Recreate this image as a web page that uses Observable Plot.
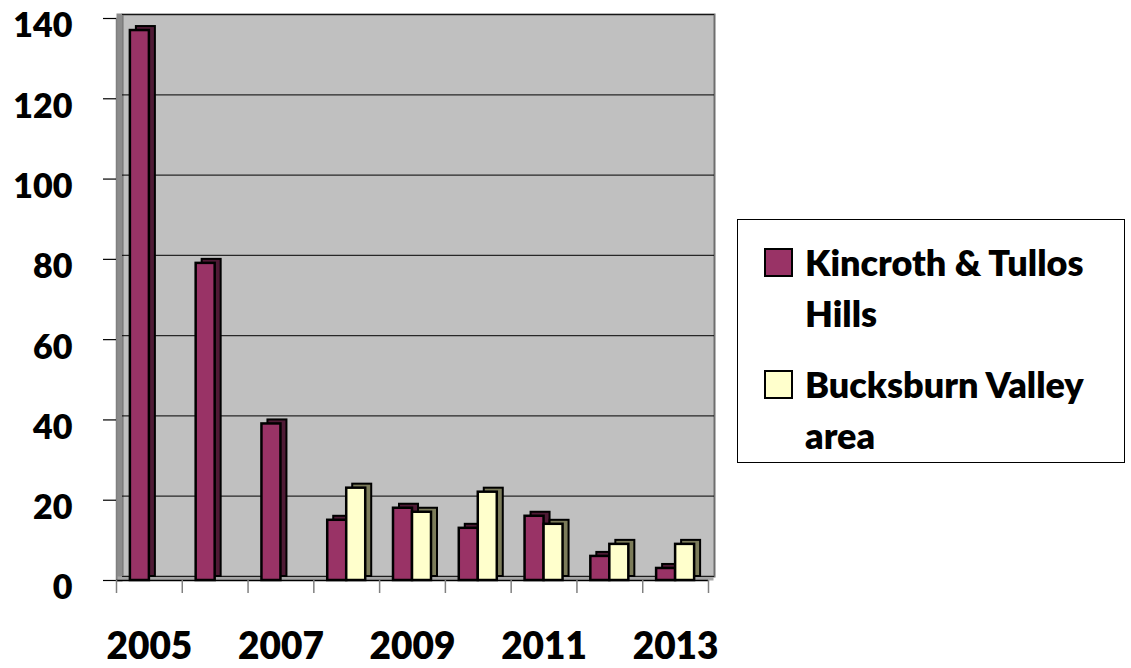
<!DOCTYPE html>
<html>
<head>
<meta charset="utf-8">
<script src="https://cdn.jsdelivr.net/npm/d3@7"></script>
<script src="https://cdn.jsdelivr.net/npm/@observablehq/plot@0.6"></script>
<style>
  html, body { margin: 0; padding: 0; background: #fff; }
  #wrap { position: relative; width: 1131px; height: 668px; }
  #chart { position: absolute; left: 0; top: 0; }
  #legend {
    position: absolute; left: 737px; top: 219px; width: 386px; height: 242px;
    border: 1px solid #000; background: #fff;
    font-family: Lato, "Open Sans", sans-serif; font-weight: 800; font-size: 36px; color: #000;
  }
  .item { position: absolute; left: 26px; display: flex; align-items: flex-start; }
  .sw { width: 25px; height: 25px; border: 2px solid #000; margin-right: 12px; flex: none; margin-top: 11px; }
  .lbl { line-height: 51px; white-space: nowrap; }
</style>
</head>
<body>
<div id="wrap">
  <div id="chart"></div>
  <div id="legend"></div>
</div>
<script>
const years = ["2005","2006","2007","2008","2009","2010","2011","2012","2013"];
const seriesNames = ["Kincroth & Tullos Hills", "Bucksburn Valley area"];
const kincroth = [137, 79, 39, 15, 18, 13, 16, 6, 3];
const bucksburn = [0, null, null, 23, 17, 22, 14, 9, 9];
const yTicks = [0, 20, 40, 60, 80, 100, 120, 140];
const xLabels = ["2005", "2007", "2009", "2011", "2013"];
const colors = ["#993366", "#ffffcc"];
const sideColors = ["#4f1a35", "#7c7c5a"];

const kData = years.map((y, i) => ({year: y, value: kincroth[i]}));
const bData = years.map((y, i) => ({year: y, value: bucksburn[i]})).filter(d => d.value != null);

const W = 730, H = 668, mL = 116, mR = 22, mT = 18, mB = 88;
const bw = (W - mL - mR) / years.length;
const barW = 19;
const inNear = bw / 2 - barW, inFar = bw / 2;
const depthX = 6, depthY = -4;
const axisFont = "Lato, 'Open Sans', sans-serif";

const plot = Plot.plot({
  width: W, height: H,
  marginLeft: mL, marginRight: mR, marginTop: mT, marginBottom: mB,
  style: {background: "transparent", fontFamily: axisFont, color: "#000"},
  x: {type: "band", domain: years, paddingInner: 0, paddingOuter: 0, round: false, axis: null, label: null},
  y: {domain: [0, 140], axis: null, label: null},
  marks: [
    // back wall
    Plot.frame({fill: "#c0c0c0", stroke: "#6e6e6e", strokeWidth: 2, dx: depthX, dy: depthY}),
    // left side wall
    Plot.frame({anchor: "left", stroke: "#8c8c8c", strokeWidth: depthX, dx: depthX / 2, dy: depthY / 2}),
    // floor
    Plot.frame({anchor: "bottom", stroke: "#a6a6a6", strokeWidth: 4, dx: depthX / 2, dy: depthY / 2}),
    // gridlines on back wall
    Plot.gridY(yTicks, {stroke: "#000", strokeOpacity: 0.8, strokeWidth: 1.2, dx: depthX, dy: depthY}),
    // 3D tops/sides
    Plot.barY(kData, {x: "year", y: "value", fill: sideColors[0], stroke: "#000", strokeWidth: 2,
      insetLeft: inNear, insetRight: inFar, dx: depthX, dy: depthY}),
    Plot.barY(bData, {x: "year", y: "value", fill: sideColors[1], stroke: "#000", strokeWidth: 2,
      insetLeft: inFar, insetRight: inNear, dx: depthX, dy: depthY}),
    // front faces
    Plot.barY(kData, {x: "year", y: "value", fill: colors[0], stroke: "#000", strokeWidth: 2.5,
      insetLeft: inNear, insetRight: inFar}),
    Plot.barY(bData, {x: "year", y: "value", fill: colors[1], stroke: "#000", strokeWidth: 2.5,
      insetLeft: inFar, insetRight: inNear}),
    // axis lines
    Plot.frame({anchor: "left", stroke: "#808080", strokeWidth: 1.5}),
    Plot.ruleY([0], {stroke: "#000", strokeWidth: 1.5}),
    // y ticks and labels
    Plot.axisY(yTicks, {tickSize: 13, tickFormat: () => "", stroke: "#000", strokeWidth: 1.2, label: null}),
    Plot.axisY(yTicks, {tickSize: 0, tickPadding: 44, dy: 8, fontSize: 34, fontWeight: 800, fontFamily: axisFont, label: null}),
    // x boundary ticks
    Plot.axisX(years, {tickSize: 13, tickFormat: () => "", dx: -bw / 2, stroke: "#808080", strokeWidth: 1.5, label: null}),
    Plot.axisX([years[years.length - 1]], {tickSize: 13, tickFormat: () => "", dx: bw / 2, stroke: "#808080", strokeWidth: 1.5, label: null}),
    // x labels
    Plot.axisX(xLabels, {tickSize: 0, tickPadding: 52, fontSize: 37, fontWeight: 800, fontFamily: axisFont, label: null})
  ]
});
document.getElementById("chart").appendChild(plot);

// legend
const legend = document.getElementById("legend");
const legendItems = [
  {name: seriesNames[0], lines: ["Kincroth & Tullos", "Hills"], color: colors[0], top: 17},
  {name: seriesNames[1], lines: ["Bucksburn Valley", "area"], color: colors[1], top: 139}
];
for (const it of legendItems) {
  const row = document.createElement("div");
  row.className = "item";
  row.style.top = it.top + "px";
  const sw = document.createElement("div");
  sw.className = "sw";
  sw.style.background = it.color;
  const lbl = document.createElement("div");
  lbl.className = "lbl";
  lbl.innerHTML = it.lines.join("<br>");
  row.appendChild(sw);
  row.appendChild(lbl);
  legend.appendChild(row);
}
</script>
</body>
</html>
